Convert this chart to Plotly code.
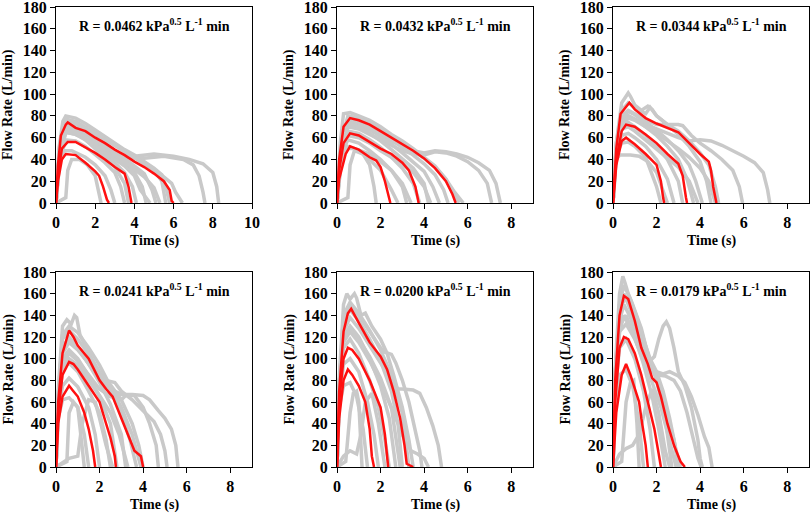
import plotly.graph_objects as go

# ---------------- data ----------------
PANEL_R = ["0.0462", "0.0432", "0.0344", "0.0241", "0.0200", "0.0179"]
X_MAX = [10, 9, 9, 9, 9, 9]
X_TICKS = [[0, 2, 4, 6, 8, 10], [0, 2, 4, 6, 8], [0, 2, 4, 6, 8],
           [0, 2, 4, 6, 8], [0, 2, 4, 6, 8], [0, 2, 4, 6, 8]]
Y_TICKS = [0, 20, 40, 60, 80, 100, 120, 140, 160, 180]

# Panel 1 (R = 0.0462)
P1_GRAY = [
    ([0, 0.15, 0.35, 0.5, 1.0, 1.5, 2.0, 2.5, 3.0, 3.5, 4.0, 4.5, 5.0, 5.4, 5.6, 5.8],
     [0, 50, 75, 80, 78, 73, 67, 61, 55, 49, 44, 38, 32, 26, 15, 0]),
    ([0, 0.2, 0.5, 1.0, 1.5, 2.0, 2.5, 3.0, 3.5, 4.0, 5.0, 6.0, 6.8, 7.5, 8.0, 8.2, 8.3],
     [0, 50, 70, 68, 63, 58, 52, 47, 44, 43, 45, 43, 40, 36, 28, 15, 0]),
    ([0, 0.2, 0.5, 1.0, 2.0, 3.0, 3.5, 4.5, 5.5, 6.5, 7.0, 7.3, 7.5, 7.6],
     [0, 45, 65, 63, 55, 47, 42, 41, 43, 40, 35, 25, 10, 0]),
    ([0, 0.3, 0.5, 0.6, 0.8, 1.2, 1.6, 2.0, 2.2, 2.3],
     [0, 3, 5, 30, 40, 40, 35, 25, 10, 0]),
    ([0, 0.2, 0.5, 1, 1.5, 2, 2.5, 3, 3.3, 3.5],
     [0, 40, 58, 57, 52, 45, 37, 28, 15, 0]),
    ([0, 0.2, 0.5, 1, 1.5, 2, 2.5, 3, 3.5, 3.9, 4.1],
     [0, 45, 65, 63, 58, 51, 44, 37, 28, 15, 0]),
    ([0, 0.2, 0.5, 1, 1.5, 2, 2.5, 3, 3.5, 4, 4.4, 4.6],
     [0, 50, 70, 69, 64, 57, 50, 43, 36, 28, 15, 0]),
    ([0, 0.2, 0.5, 1, 1.5, 2, 2.5, 3, 3.5, 4, 4.5, 4.9, 5.1],
     [0, 52, 74, 72, 67, 61, 55, 48, 41, 35, 27, 12, 0]),
    ([0, 0.2, 0.5, 1, 2, 3, 4, 4.5, 5, 5.4, 5.6],
     [0, 55, 77, 75, 64, 53, 42, 36, 30, 20, 0]),
    ([0, 0.2, 0.5, 1, 2, 3, 4, 5, 5.5, 5.9, 6.1, 6.3, 6.45],
     [0, 55, 76, 74, 64, 53, 42, 31, 24, 18, 10, 5, 0]),
    ([0, 0.15, 0.4, 0.8, 1.5, 2, 2.5, 2.8, 3.0],
     [0, 35, 48, 48, 42, 35, 25, 12, 0]),
    ([0, 0.2, 0.5, 1, 1.5, 2, 2.5, 3, 3.5, 3.7],
     [0, 48, 66, 64, 58, 50, 42, 33, 18, 0]),
    ([0, 0.2, 0.5, 1, 1.5, 2, 2.5, 3, 3.5, 4, 4.3, 4.8],
     [0, 48, 68, 66, 60, 53, 46, 40, 34, 25, 12, 0]),
    ([0, 0.2, 0.5, 1, 1.5, 2, 2.5, 3, 3.5, 4, 4.5, 5, 5.3],
     [0, 50, 72, 70, 65, 59, 52, 45, 38, 31, 24, 14, 0]),
]
P1_RED = [
    ([0, 0.1, 0.25, 0.5, 0.6, 1, 1.5, 2, 2.5, 3, 3.5, 4, 4.5, 5, 5.5, 5.8, 5.9, 6.0],
     [0, 35, 62, 72, 74, 69, 66, 60, 55, 49, 44, 38, 33, 27, 20, 12, 2, 0]),
    ([0, 0.1, 0.3, 0.6, 1, 1.5, 2, 2.5, 3, 3.5, 3.7, 3.8, 3.85],
     [0, 25, 50, 56, 56, 51, 46, 40, 33, 27, 15, 5, 0]),
    ([0, 0.1, 0.3, 0.5, 1, 1.5, 2, 2.2, 2.4, 2.6, 2.7],
     [0, 20, 40, 45, 44, 37, 29, 25, 15, 3, 0]),
]

# Panel 2 (R = 0.0432)
P2_GRAY = [
    ([0, 0.15, 0.3, 0.6, 1, 1.5, 2, 2.5, 3, 3.5, 4, 4.5, 5, 5.3, 5.6],
     [0, 55, 82, 83, 80, 76, 70, 63, 57, 50, 42, 34, 22, 10, 0]),
    ([0, 0.2, 0.5, 1, 1.5, 2, 2.5, 3, 3.5, 4, 4.5, 5, 5.5, 6, 6.5, 7, 7.3, 7.5],
     [0, 55, 75, 72, 67, 62, 57, 52, 48, 46, 48, 47, 45, 42, 37, 30, 18, 0]),
    ([0, 0.2, 0.5, 1, 2, 3, 3.5, 4, 4.5, 5, 5.5, 6, 6.5, 6.9, 7.1],
     [0, 50, 70, 68, 58, 48, 45, 44, 47, 46, 43, 38, 30, 18, 0]),
    ([0, 0.3, 0.5, 0.6, 0.8, 1.2, 1.5, 1.7, 1.8],
     [0, 3, 5, 35, 48, 45, 35, 15, 0]),
    ([0, 0.2, 0.5, 1, 1.5, 2, 2.5, 2.8],
     [0, 40, 52, 48, 40, 30, 12, 0]),
    ([0, 0.2, 0.5, 1, 1.5, 2, 2.5, 3, 3.2],
     [0, 45, 58, 55, 48, 40, 30, 15, 0]),
    ([0, 0.2, 0.5, 1, 1.5, 2, 2.5, 3, 3.5, 3.8],
     [0, 50, 66, 64, 58, 51, 42, 32, 18, 0]),
    ([0, 0.2, 0.5, 1, 1.5, 2, 2.5, 3, 3.5, 4, 4.2],
     [0, 52, 72, 70, 64, 57, 49, 41, 32, 18, 0]),
    ([0, 0.2, 0.5, 1, 1.5, 2, 2.5, 3, 3.5, 4, 4.4, 4.7],
     [0, 55, 76, 74, 68, 61, 54, 46, 38, 29, 15, 0]),
    ([0, 0.2, 0.5, 1, 1.5, 2, 2.5, 3, 3.5, 4, 4.5, 4.9, 5.1],
     [0, 55, 78, 76, 71, 65, 58, 51, 44, 36, 26, 12, 0]),
    ([0, 0.2, 0.5, 1, 1.5, 2, 2.5, 3, 3.5, 4, 4.5, 5, 5.4, 5.8],
     [0, 55, 80, 78, 73, 67, 61, 55, 48, 41, 33, 22, 10, 0]),
    ([0, 0.2, 0.4, 0.8, 1.5, 2, 2.5, 3, 3.4],
     [0, 40, 50, 50, 45, 38, 30, 18, 0]),
    ([0, 0.2, 0.5, 1, 1.5, 2, 2.5, 3, 3.5, 4, 4.3],
     [0, 48, 62, 60, 55, 48, 42, 36, 28, 15, 0]),
]
P2_RED = [
    ([0, 0.1, 0.3, 0.6, 1, 1.5, 2, 2.5, 3, 3.5, 4, 4.5, 5, 5.3, 5.45],
     [0, 40, 70, 78, 76, 72, 66, 60, 54, 48, 41, 32, 20, 8, 0]),
    ([0, 0.1, 0.3, 0.6, 1, 1.5, 2, 2.5, 3, 3.3, 3.6, 3.7, 3.75],
     [0, 30, 55, 64, 62, 56, 50, 45, 37, 30, 15, 5, 0]),
    ([0, 0.1, 0.4, 0.6, 1, 1.5, 1.8, 2, 2.2, 2.4, 2.45],
     [0, 22, 45, 52, 49, 42, 39, 33, 20, 5, 0]),
]

# Panel 3 (R = 0.0344)
P3_GRAY = [
    ([0, 0.15, 0.4, 0.7, 0.8, 1, 1.3, 1.6, 1.8, 2, 2.5, 3, 3.5, 4, 4.4, 4.7, 4.85],
     [0, 55, 92, 101, 98, 90, 85, 89, 86, 80, 72, 66, 57, 46, 35, 15, 0]),
    ([0, 0.15, 0.4, 0.7, 1, 1.5, 2, 2.5, 3, 3.2, 3.6, 4, 4.5, 5, 5.5, 5.8, 5.95],
     [0, 50, 80, 85, 82, 76, 72, 72, 72, 71, 62, 55, 48, 40, 30, 15, 0]),
    ([0, 0.15, 0.4, 0.7, 1, 1.5, 2, 2.5, 3, 3.5, 4, 4.5, 5, 5.5, 6, 6.5, 6.9, 7.1, 7.2],
     [0, 45, 75, 80, 77, 72, 68, 64, 60, 57, 58, 57, 53, 48, 43, 37, 28, 12, 0]),
    ([0, 0.15, 0.3, 0.8, 1.2, 1.6, 2, 2.3, 2.5],
     [0, 40, 44, 44, 43, 38, 28, 12, 0]),
    ([0, 0.15, 0.4, 0.7, 1, 1.5, 2, 2.5, 2.8],
     [0, 45, 62, 64, 60, 52, 40, 22, 0]),
    ([0, 0.15, 0.4, 0.7, 1, 1.5, 2, 2.5, 3, 3.2],
     [0, 50, 70, 74, 70, 62, 52, 40, 20, 0]),
    ([0, 0.15, 0.4, 0.7, 1, 1.5, 2, 2.5, 3, 3.4, 3.7],
     [0, 52, 76, 80, 77, 70, 62, 52, 40, 22, 0]),
    ([0, 0.15, 0.4, 0.7, 1, 1.5, 2, 2.5, 3, 3.5, 3.8, 4.1],
     [0, 52, 78, 84, 81, 74, 67, 58, 48, 35, 20, 0]),
    ([0, 0.15, 0.4, 0.7, 1, 1.5, 1.7, 2, 2.5, 3, 3.5, 4, 4.3, 4.5],
     [0, 55, 85, 92, 88, 82, 88, 80, 72, 63, 52, 38, 20, 0]),
    ([0, 0.15, 0.4, 0.7, 1, 1.5, 2, 2.5, 3, 3.5, 4, 4.4, 4.7],
     [0, 50, 72, 78, 76, 70, 64, 57, 50, 42, 32, 20, 0]),
    ([0, 0.15, 0.4, 0.7, 1, 1.5, 2, 2.2],
     [0, 45, 55, 56, 52, 42, 15, 0]),
    ([0, 0.15, 0.4, 0.7, 1, 1.5, 2, 2.5, 3, 3.5, 3.9],
     [0, 50, 68, 70, 66, 58, 50, 42, 33, 20, 0]),
]
P3_RED = [
    ([0, 0.15, 0.35, 0.6, 0.75, 1, 1.5, 2, 2.5, 3, 3.5, 4, 4.4, 4.5, 4.6, 4.75],
     [0, 50, 82, 88, 92, 86, 78, 73, 69, 65, 55, 45, 38, 30, 15, 0]),
    ([0, 0.15, 0.4, 0.6, 1, 1.5, 2, 2.5, 3, 3.2, 3.35, 3.4],
     [0, 40, 66, 72, 70, 63, 55, 45, 36, 25, 5, 0]),
    ([0, 0.15, 0.4, 0.6, 1, 1.5, 2, 2.2, 2.3, 2.35],
     [0, 35, 57, 60, 54, 45, 35, 20, 5, 0]),
]

# Panel 4 (R = 0.0241)
P4_GRAY = [
    ([0, 0.1, 0.3, 0.5, 0.7, 0.85, 0.95, 1.1, 1.4, 1.7, 2, 2.2, 2.5, 3, 3.5, 3.8, 4.0],
     [0, 70, 130, 136, 132, 140, 138, 122, 110, 98, 85, 80, 76, 62, 40, 20, 0]),
    ([0, 0.1, 0.3, 0.6, 1, 1.5, 2, 2.5, 3, 3.5, 4, 4.3, 4.7, 5, 5.3, 5.5, 5.6],
     [0, 60, 110, 120, 110, 95, 82, 72, 67, 67, 66, 62, 52, 45, 35, 20, 0]),
    ([0, 0.1, 0.3, 0.6, 1, 1.5, 2, 2.3, 2.7, 3, 3.5, 4, 4.5, 4.8, 5.0, 5.1],
     [0, 60, 105, 115, 108, 95, 83, 80, 78, 70, 62, 52, 42, 30, 15, 0]),
    ([0, 0.1, 0.3, 0.6, 1, 1.5, 2, 2.5, 3, 3.2, 3.6, 4, 4.3, 4.6, 4.7],
     [0, 55, 95, 105, 98, 85, 72, 65, 62, 66, 66, 55, 40, 20, 0]),
    ([0, 0.3, 0.6, 1.0, 1.2, 1.5, 1.8, 2.0, 2.3, 2.6],
     [0, 4, 8, 10, 40, 62, 60, 45, 20, 0]),
    ([0, 0.3, 0.5, 0.6, 0.8, 1, 1.2, 1.3],
     [0, 3, 5, 50, 60, 55, 20, 0]),
    ([0, 0.1, 0.3, 0.6, 1, 1.3, 1.5],
     [0, 45, 62, 64, 55, 30, 0]),
    ([0, 0.1, 0.3, 0.6, 1, 1.5, 1.8, 2.0],
     [0, 50, 75, 82, 74, 55, 30, 0]),
    ([0, 0.1, 0.3, 0.6, 1, 1.5, 2, 2.3, 2.5],
     [0, 55, 90, 96, 88, 70, 50, 25, 0]),
    ([0, 0.1, 0.3, 0.6, 1, 1.5, 2, 2.5, 2.8],
     [0, 58, 100, 108, 100, 84, 65, 40, 0]),
    ([0, 0.1, 0.3, 0.6, 1, 1.5, 2, 2.5, 3, 3.2],
     [0, 60, 110, 118, 110, 95, 78, 58, 30, 0]),
    ([0, 0.1, 0.3, 0.6, 1, 1.5, 2, 2.5, 3, 3.4, 3.7],
     [0, 65, 118, 126, 118, 104, 88, 70, 50, 25, 0]),
    ([0, 0.1, 0.3, 0.6, 1, 1.5, 2, 2.5, 3, 3.5, 3.9],
     [0, 65, 122, 130, 124, 110, 94, 75, 55, 30, 0]),
    ([0, 0.1, 0.3, 0.6, 1, 1.5, 2, 2.5, 2.9, 3.3],
     [0, 55, 92, 100, 94, 80, 66, 50, 30, 0]),
]
P4_RED = [
    ([0, 0.1, 0.3, 0.5, 0.6, 0.8, 1, 1.5, 2, 2.3, 2.6, 3, 3.3, 3.6, 3.9, 4.0],
     [0, 60, 105, 120, 126, 120, 112, 100, 80, 72, 65, 45, 30, 15, 10, 0]),
    ([0, 0.1, 0.3, 0.6, 0.8, 1, 1.5, 2, 2.3, 2.5, 2.7, 2.75],
     [0, 50, 85, 97, 95, 90, 75, 60, 40, 27, 10, 0]),
    ([0, 0.1, 0.3, 0.6, 0.8, 1, 1.3, 1.5, 1.7, 1.8],
     [0, 40, 65, 75, 70, 65, 50, 35, 15, 0]),
]

# Panel 5 (R = 0.0200)
P5_GRAY = [
    ([0, 0.1, 0.3, 0.45, 0.6, 0.8, 0.9, 1.1, 1.3, 1.6, 2, 2.3, 2.6, 3, 3.3, 3.5],
     [0, 80, 150, 160, 155, 160, 156, 140, 142, 130, 118, 105, 85, 55, 25, 0]),
    ([0, 0.1, 0.3, 0.6, 1, 1.5, 2, 2.5, 2.8, 3, 3.5, 3.8, 4.1, 4.4, 4.65, 4.8],
     [0, 70, 125, 138, 128, 112, 96, 80, 72, 72, 71, 68, 55, 38, 20, 0]),
    ([0, 0.1, 0.3, 0.6, 1, 1.5, 2, 2.2, 2.5, 2.7, 3, 3.3, 3.6, 3.8, 3.9],
     [0, 75, 135, 148, 140, 125, 110, 106, 104, 96, 80, 60, 35, 15, 0]),
    ([0, 0.1, 0.3, 0.6, 1, 1.5, 2, 2.5, 2.8, 3.1, 3.4, 3.7, 4.0, 4.2],
     [0, 65, 115, 125, 115, 98, 78, 55, 40, 25, 15, 12, 8, 0]),
    ([0, 0.3, 0.6, 0.9, 1.1, 1.3, 1.6, 1.9, 2.2],
     [0, 10, 15, 12, 30, 60, 68, 40, 0]),
    ([0, 0.4, 0.6, 0.75, 0.9, 1.0, 1.1, 1.15],
     [0, 5, 50, 68, 70, 60, 20, 0]),
    ([0, 0.1, 0.3, 0.6, 0.9, 1.2, 1.4],
     [0, 55, 75, 78, 65, 35, 0]),
    ([0, 0.1, 0.3, 0.6, 1, 1.4, 1.7, 1.9],
     [0, 60, 95, 100, 88, 60, 30, 0]),
    ([0, 0.1, 0.3, 0.6, 1, 1.5, 1.9, 2.2, 2.4],
     [0, 65, 110, 118, 105, 80, 55, 25, 0]),
    ([0, 0.1, 0.3, 0.6, 1, 1.5, 2, 2.4, 2.7],
     [0, 70, 120, 130, 120, 100, 75, 45, 0]),
    ([0, 0.1, 0.3, 0.6, 1, 1.5, 2, 2.5, 2.8, 3.0],
     [0, 75, 135, 145, 135, 118, 98, 70, 40, 0]),
    ([0, 0.1, 0.3, 0.6, 1, 1.5, 2, 2.5, 3, 3.3],
     [0, 75, 140, 152, 142, 126, 108, 85, 50, 0]),
    ([0, 0.1, 0.3, 0.6, 1, 1.5, 2, 2.5, 2.9],
     [0, 70, 118, 128, 118, 102, 82, 55, 0]),
]
P5_RED = [
    ([0, 0.1, 0.3, 0.5, 0.65, 0.8, 1, 1.5, 2, 2.3, 2.6, 2.9, 3.1, 3.2, 3.5],
     [0, 70, 125, 142, 146, 140, 133, 115, 102, 90, 70, 45, 20, 3, 0]),
    ([0, 0.1, 0.3, 0.5, 0.7, 1, 1.5, 2, 2.2, 2.3, 2.35],
     [0, 60, 100, 110, 108, 100, 80, 55, 30, 10, 0]),
    ([0, 0.1, 0.3, 0.5, 0.7, 1, 1.3, 1.5, 1.6, 1.7],
     [0, 45, 80, 90, 85, 75, 60, 35, 10, 0]),
]

# Panel 6 (R = 0.0179)
P6_GRAY = [
    ([0, 0.1, 0.3, 0.45, 0.55, 0.7, 0.9, 1.1, 1.3, 1.5, 1.7, 2, 2.3, 2.6, 2.9, 3.1],
     [0, 90, 160, 176, 170, 160, 150, 140, 128, 112, 100, 88, 70, 45, 15, 0]),
    ([0, 0.1, 0.3, 0.5, 0.8, 1.1, 1.4, 1.7, 1.9, 2.1, 2.3, 2.45, 2.6, 2.8, 3.0, 3.3, 3.6, 3.9, 4.0, 4.1],
     [0, 80, 145, 160, 145, 125, 108, 98, 102, 118, 130, 134, 128, 110, 88, 75, 55, 25, 8, 0]),
    ([0, 0.1, 0.3, 0.5, 0.8, 1.1, 1.4, 1.7, 2, 2.3, 2.6, 3, 3.3, 3.6, 3.9, 4.2, 4.4, 4.55],
     [0, 75, 135, 150, 138, 120, 105, 92, 88, 86, 88, 84, 78, 65, 48, 28, 18, 0]),
    ([0, 0.1, 0.3, 0.5, 0.8, 1.2, 1.6, 2, 2.4, 2.8, 3.1, 3.4, 3.7, 3.9, 4.05],
     [0, 70, 125, 140, 128, 110, 92, 85, 84, 80, 70, 50, 25, 8, 0]),
    ([0, 0.3, 0.6, 0.9, 1.2, 1.5, 1.8, 2.1, 2.4, 2.6],
     [0, 12, 17, 20, 30, 55, 72, 50, 15, 0]),
    ([0, 0.4, 0.6, 0.8, 0.95, 1.1, 1.2],
     [0, 5, 60, 78, 80, 40, 0]),
    ([0, 0.1, 0.3, 0.6, 0.9, 1.2, 1.4],
     [0, 60, 85, 90, 75, 40, 0]),
    ([0, 0.1, 0.3, 0.6, 1, 1.4, 1.7, 1.9],
     [0, 70, 110, 118, 100, 70, 35, 0]),
    ([0, 0.1, 0.3, 0.6, 1, 1.4, 1.8, 2.1, 2.4],
     [0, 80, 130, 140, 120, 95, 65, 35, 0]),
    ([0, 0.1, 0.3, 0.6, 1, 1.5, 2, 2.4, 2.7],
     [0, 85, 145, 158, 138, 108, 80, 45, 0]),
    ([0, 0.1, 0.3, 0.5, 0.8, 1.2, 1.6, 2, 2.4, 2.8, 3.0],
     [0, 85, 150, 168, 155, 132, 105, 82, 55, 25, 0]),
    ([0, 0.1, 0.3, 0.6, 1, 1.4, 1.8, 2.2, 2.6, 2.9],
     [0, 75, 125, 132, 118, 98, 78, 55, 25, 0]),
]
P6_RED = [
    ([0, 0.1, 0.3, 0.5, 0.7, 1, 1.3, 1.6, 1.8, 2, 2.2, 2.5, 2.8, 3.1, 3.3],
     [0, 80, 140, 158, 155, 135, 110, 95, 82, 78, 65, 40, 20, 5, 0]),
    ([0, 0.1, 0.3, 0.5, 0.7, 1, 1.3, 1.6, 1.9, 2.1, 2.2],
     [0, 60, 110, 120, 118, 105, 85, 60, 35, 12, 0]),
    ([0, 0.15, 0.4, 0.6, 0.8, 1.1, 1.2, 1.3, 1.5, 1.6],
     [0, 50, 85, 95, 85, 65, 60, 45, 20, 0]),
]

GRAY = [P1_GRAY, P2_GRAY, P3_GRAY, P4_GRAY, P5_GRAY, P6_GRAY]
RED = [P1_RED, P2_RED, P3_RED, P4_RED, P5_RED, P6_RED]

# ---------------- layout geometry (pixels) ----------------
W, H = 812, 515
AX_LEFT = [56, 337, 613, 56, 337, 613]
AX_W = 196
AX_TOP = [7, 7, 7, 272, 272, 272]
AX_BOT = [203, 203, 203, 467, 467, 467]

FONT = "Liberation Serif, Times New Roman, serif"
GRAY_COLOR = "#c9c9c9"
RED_COLOR = "#ff1010"

fig = go.Figure()
annotations = []
layout = dict(
    template="none",
    width=W, height=H,
    margin=dict(l=0, r=0, t=0, b=0, autoexpand=False),
    paper_bgcolor="white", plot_bgcolor="white",
    showlegend=False,
    font=dict(family=FONT, size=14, color="black"),
)

for i in range(6):
    n = i + 1
    xa = "x" if n == 1 else f"x{n}"
    ya = "y" if n == 1 else f"y{n}"
    for (t, q) in GRAY[i]:
        fig.add_trace(go.Scatter(x=t, y=q, mode="lines", xaxis=xa, yaxis=ya,
                                 line=dict(color=GRAY_COLOR, width=3.5), hoverinfo="skip"))
    for (t, q) in RED[i]:
        fig.add_trace(go.Scatter(x=t, y=q, mode="lines", xaxis=xa, yaxis=ya,
                                 line=dict(color=RED_COLOR, width=2.5), hoverinfo="skip"))

    x0 = AX_LEFT[i] / W
    x1 = (AX_LEFT[i] + AX_W) / W
    y0 = 1 - AX_BOT[i] / H
    y1 = 1 - AX_TOP[i] / H
    xkey = "xaxis" if n == 1 else f"xaxis{n}"
    ykey = "yaxis" if n == 1 else f"yaxis{n}"
    layout[xkey] = dict(
        domain=[x0, x1], anchor=ya, range=[0, X_MAX[i]], automargin=False,
        tickmode="array", tickvals=X_TICKS[i], ticktext=[str(v) for v in X_TICKS[i]],
        ticks="outside", ticklen=5, tickwidth=1, tickcolor="black",
        showline=True, linecolor="black", linewidth=1, mirror=True,
        showgrid=False, zeroline=False, ticklabeloverflow="allow",
        tickfont=dict(family=FONT, size=16, color="black", weight="bold"),
    )
    layout[ykey] = dict(
        domain=[y0, y1], anchor=xa, range=[0, 180], automargin=False,
        tickmode="array", tickvals=Y_TICKS, ticktext=[str(v) for v in Y_TICKS],
        ticks="outside", ticklen=5, tickwidth=1, tickcolor="black",
        showline=True, linecolor="black", linewidth=1, mirror=True,
        showgrid=False, zeroline=False, ticklabeloverflow="allow",
        tickfont=dict(family=FONT, size=16, color="black", weight="bold"),
    )
    cx = (AX_LEFT[i] + AX_W / 2) / W
    # panel label
    annotations.append(dict(
        x=cx, y=1 - (AX_TOP[i] + 18) / H, xref="paper", yref="paper",
        xanchor="center", yanchor="middle", showarrow=False,
        text=f"<b>R = {PANEL_R[i]} kPa<sup>0.5</sup> L<sup>-1</sup> min</b>",
        font=dict(family=FONT, size=14, color="black"),
    ))
    # x title
    annotations.append(dict(
        x=cx, y=1 - (AX_BOT[i] + 38) / H, xref="paper", yref="paper",
        xanchor="center", yanchor="middle", showarrow=False,
        text="<b>Time (s)</b>", font=dict(family=FONT, size=14, color="black"),
    ))
    # y title
    annotations.append(dict(
        x=(AX_LEFT[i] - 48) / W, y=1 - (AX_TOP[i] + AX_BOT[i]) / 2 / H,
        xref="paper", yref="paper", xanchor="center", yanchor="middle",
        showarrow=False, textangle=-90,
        text="<b>Flow Rate (L/min)</b>", font=dict(family=FONT, size=14, color="black"),
    ))

layout["annotations"] = annotations
fig.update_layout(**layout)
fig.write_html("out.html", config={"displayModeBar": False},
               post_script="document.body.style.margin='0';document.body.style.padding='0';")
